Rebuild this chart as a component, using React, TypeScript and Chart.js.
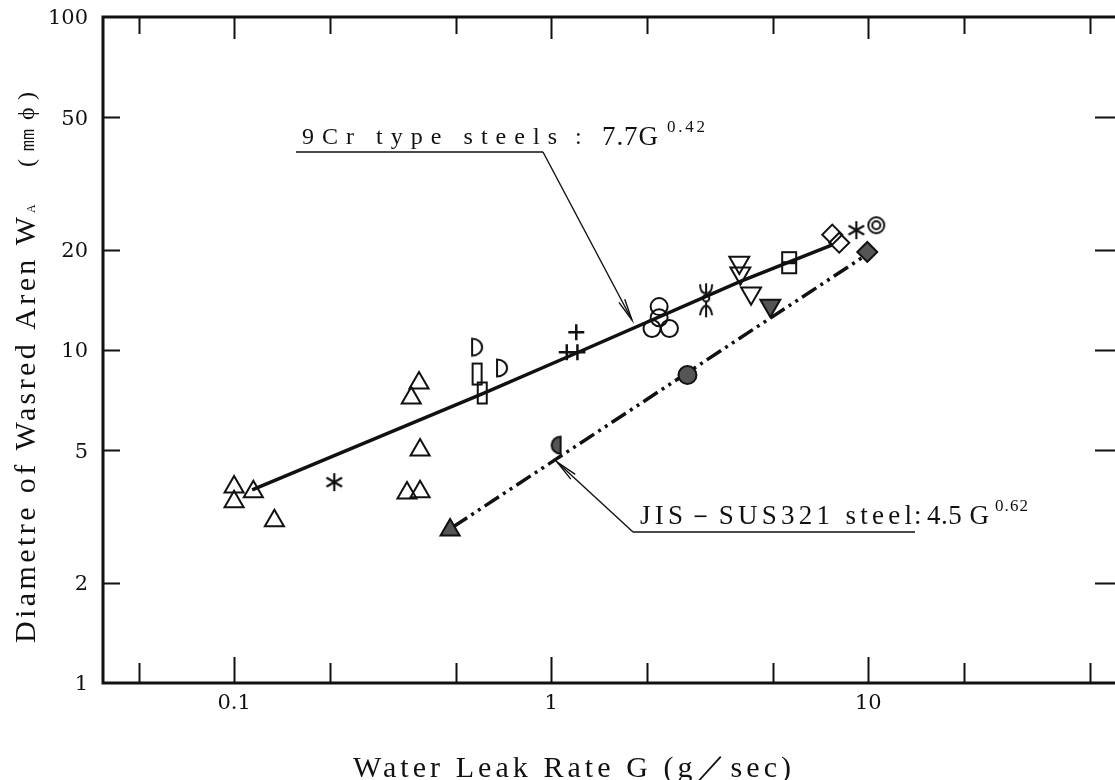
import React, { useEffect, useRef } from 'react';
import { Chart, registerables } from 'chart.js';

Chart.register(...registerables);

// ---- axis ranges and ticks ----
const X_MIN = 0.0386;
const X_MAX = 60;
const Y_MIN = 1;
const Y_MAX = 100;
const xTickLabels = [0.1, 1, 10];
const yTickLabels = [1, 2, 5, 10, 20, 50, 100];
const xTickMarks = [0.05, 0.1, 0.2, 0.5, 1, 2, 5, 10, 20, 50];
const yTickMarks = [2, 5, 10, 20, 50];

// ---- fitted lines ----
const fit9CrG = [0.114, 0.606, 1.12, 3.97, 7.7];
const fit9CrW = [3.8, 7.38, 9.51, 16.1, 20.7];
const fitSusG = [0.49, 9.86];
const fitSusW = [2.94, 19.3];

// ---- 9Cr type steels (open symbols) ----
const triG = [0.1, 0.1, 0.115, 0.134, 0.383, 0.362, 0.386, 0.351, 0.386];
const triW = [3.88, 3.5, 3.75, 3.07, 7.96, 7.18, 5.01, 3.72, 3.75];
const starG = [0.207, 9.17];
const starW = [4.01, 22.9];
const halfOpenG = [0.584, 0.7];
const halfOpenW = [10.2, 8.83];
const tallRectG = [0.584, 0.606];
const tallRectW = [8.47, 7.43];
const plusG = [1.2, 1.12, 1.21];
const plusW = [11.3, 9.84, 9.84];
const circleG = [2.19, 2.08, 2.36, 2.19];
const circleW = [13.5, 11.6, 11.6, 12.5];
const psiG = [3.08];
const psiW = [14.1];
const invTriG = [3.92, 3.95, 4.27];
const invTriW = [18.3, 17.0, 14.8];
const wideRectG = [5.63, 5.63];
const wideRectW = [19.0, 17.6];
const diamondG = [7.7, 8.1];
const diamondW = [22.2, 21.0];
const dblCircleG = [10.6];
const dblCircleW = [23.7];

// ---- JIS-SUS321 steel (shaded symbols) ----
const susTriG = [0.48];
const susTriW = [2.88];
const susHalfG = [1.04];
const susHalfW = [5.18];
const susCircleG = [2.69];
const susCircleW = [8.41];
const susInvTriG = [4.91];
const susInvTriW = [13.6];
const susDiamondG = [9.93];
const susDiamondW = [19.7];

const INK = '#111';
const SHADE = '#555';
const NONE = 'rgba(0,0,0,0)';

const pts = (g: number[], w: number[]) => g.map((v, i) => ({ x: v, y: w[i] }));

function mk(w: number, h: number, draw: (g: CanvasRenderingContext2D) => void) {
  const c = document.createElement('canvas');
  c.width = w;
  c.height = h;
  const g = c.getContext('2d') as CanvasRenderingContext2D;
  g.strokeStyle = INK;
  g.fillStyle = SHADE;
  g.lineWidth = 2;
  draw(g);
  return c;
}

function buildMarkers() {
  const halfOpen = mk(16, 22, (g) => {
    g.beginPath();
    g.moveTo(3, 2.5);
    g.ellipse(3, 11, 10, 8.5, 0, -Math.PI / 2, Math.PI / 2);
    g.closePath();
    g.stroke();
  });
  const halfFilled = mk(14, 22, (g) => {
    g.beginPath();
    g.ellipse(11, 11, 9, 8.5, 0, Math.PI / 2, (3 * Math.PI) / 2);
    g.closePath();
    g.fill();
    g.stroke();
  });
  const tallRect = mk(13, 25, (g) => {
    g.strokeRect(2, 2, 9, 21);
  });
  const wideRect = mk(18, 14, (g) => {
    g.strokeRect(2, 2, 14, 10);
  });
  const dblCircle = mk(22, 22, (g) => {
    g.beginPath();
    g.arc(11, 11, 8, 0, Math.PI * 2);
    g.stroke();
    g.beginPath();
    g.arc(11, 11, 4, 0, Math.PI * 2);
    g.stroke();
  });
  const asterisk = mk(22, 22, (g) => {
    g.lineWidth = 2.2;
    for (const a of [90, 30, 150]) {
      const r = (a * Math.PI) / 180;
      g.beginPath();
      g.moveTo(11 - 9 * Math.cos(r), 11 - 9 * Math.sin(r));
      g.lineTo(11 + 9 * Math.cos(r), 11 + 9 * Math.sin(r));
      g.stroke();
    }
  });
  const psi = mk(20, 38, (g) => {
    g.lineWidth = 2;
    g.beginPath();
    g.moveTo(10, 2);
    g.lineTo(10, 13);
    g.moveTo(4, 3);
    g.quadraticCurveTo(4, 12, 10, 12);
    g.quadraticCurveTo(16, 12, 16, 3);
    g.stroke();
    g.beginPath();
    g.arc(10, 17, 3.2, 0, Math.PI * 2);
    g.stroke();
    g.beginPath();
    g.moveTo(10, 20);
    g.lineTo(10, 36);
    g.moveTo(10, 24);
    g.quadraticCurveTo(5, 26, 4, 34);
    g.moveTo(10, 24);
    g.quadraticCurveTo(15, 26, 16, 34);
    g.stroke();
  });
  return { halfOpen, halfFilled, tallRect, wideRect, dblCircle, asterisk, psi };
}

function spaced(ctx: any, text: string, x: number, y: number, width: number) {
  if ('letterSpacing' in ctx) ctx.letterSpacing = '0px';
  const w0 = ctx.measureText(text).width;
  const n = Array.from(text).length;
  const ls = n > 1 ? (width - w0) / (n - 1) : 0;
  if ('letterSpacing' in ctx) {
    ctx.letterSpacing = ls + 'px';
    ctx.fillText(text, x, y);
    ctx.letterSpacing = '0px';
  } else {
    let cx = x;
    for (const ch of Array.from(text)) {
      ctx.fillText(ch, cx, y);
      cx += ctx.measureText(ch).width + ls;
    }
  }
}

function arrow(ctx: CanvasRenderingContext2D, x1: number, y1: number, x2: number, y2: number) {
  ctx.beginPath();
  ctx.moveTo(x1, y1);
  ctx.lineTo(x2, y2);
  ctx.stroke();
  const ang = Math.atan2(y2 - y1, x2 - x1);
  const L = 22;
  const sp = 0.15;
  ctx.beginPath();
  ctx.moveTo(x2 - L * Math.cos(ang - sp), y2 - L * Math.sin(ang - sp));
  ctx.lineTo(x2, y2);
  ctx.lineTo(x2 - L * Math.cos(ang + sp), y2 - L * Math.sin(ang + sp));
  ctx.stroke();
}

const serif = '"Liberation Serif", "DejaVu Serif", serif';

const framePlugin = {
  id: 'frameAndNotes',
  afterDraw(chart: any) {
    const { ctx, chartArea: a, scales } = chart;
    const x = scales.x;
    const y = scales.y;
    ctx.save();
    ctx.strokeStyle = INK;
    ctx.fillStyle = INK;
    ctx.lineCap = 'butt';
    // frame (right edge falls at the canvas border)
    ctx.lineWidth = 3;
    ctx.beginPath();
    ctx.moveTo(a.right, a.top);
    ctx.lineTo(a.left, a.top);
    ctx.lineTo(a.left, a.bottom);
    ctx.lineTo(a.right, a.bottom);
    ctx.stroke();
    // inward tick marks
    ctx.lineWidth = 2;
    for (const v of xTickMarks) {
      const px = Math.round(x.getPixelForValue(v)) + 0.5;
      const lg = Math.log10(v);
      const dec = Math.abs(lg - Math.round(lg)) < 1e-6;
      ctx.beginPath();
      ctx.moveTo(px, a.bottom);
      ctx.lineTo(px, a.bottom - (dec ? 26 : 20));
      ctx.moveTo(px, a.top);
      ctx.lineTo(px, a.top + (dec ? 22 : 17));
      ctx.stroke();
    }
    for (const v of yTickMarks) {
      const py = Math.round(y.getPixelForValue(v)) + 0.5;
      ctx.beginPath();
      ctx.moveTo(a.left, py);
      ctx.lineTo(a.left + 17, py);
      ctx.moveTo(a.right, py);
      ctx.lineTo(a.right - 20, py);
      ctx.stroke();
    }

    // axis titles
    ctx.textAlign = 'left';
    ctx.textBaseline = 'alphabetic';
    ctx.font = '30px ' + serif;
    spaced(ctx, 'Water Leak Rate G (g／sec)', 353, 777, 438);

    ctx.save();
    ctx.translate(35, 643);
    ctx.rotate(-Math.PI / 2);
    ctx.font = '30px ' + serif;
    spaced(ctx, 'Diametre of Wasred Aren W', 0, 0, 426);
    ctx.font = '12px ' + serif;
    ctx.fillText('A', 430, 0);
    ctx.font = '24px ' + serif;
    spaced(ctx, '(㎜ϕ)', 476, -1, 75);
    ctx.restore();

    // annotation: 9Cr type steels
    ctx.font = '24px ' + serif;
    spaced(ctx, '9Cr type steels', 302, 144, 255);
    ctx.fillText(':', 575, 144);
    ctx.font = '27px ' + serif;
    spaced(ctx, '7.7G', 602, 145, 56);
    ctx.font = '17px ' + serif;
    spaced(ctx, '0.42', 667, 132, 38);

    // annotation: JIS-SUS321 steel
    ctx.font = '27px ' + serif;
    spaced(ctx, 'JIS－SUS321 steel', 640, 524, 272);
    ctx.fillText(':', 914, 524);
    spaced(ctx, '4.5 G', 927, 524, 62);
    ctx.font = '17px ' + serif;
    spaced(ctx, '0.62', 995, 511, 33);

    // underlines and leader arrows
    ctx.lineWidth = 1.6;
    ctx.beginPath();
    ctx.moveTo(296, 152);
    ctx.lineTo(543, 152);
    ctx.moveTo(633, 532);
    ctx.lineTo(915, 532);
    ctx.stroke();
    ctx.lineWidth = 1.4;
    arrow(ctx, 543, 152, 632, 320);
    arrow(ctx, 633, 532, 557, 462);
    ctx.restore();
  },
};

const zeroPad = (s: any) => {
  s.paddingTop = 0;
  s.paddingBottom = 0;
  s.paddingLeft = 0;
  s.paddingRight = 0;
};

export default function App() {
  const ref = useRef<HTMLCanvasElement | null>(null);

  useEffect(() => {
    const canvas = ref.current;
    if (!canvas) return;
    const m = buildMarkers();

    const open = (data: any[], style: any, radius: number, extra: any = {}) => ({
      type: 'scatter',
      data,
      pointStyle: style,
      pointRadius: radius,
      pointBorderColor: INK,
      pointBackgroundColor: NONE,
      pointBorderWidth: 2,
      showLine: false,
      ...extra,
    });
    const shaded = (data: any[], style: any, radius: number, extra: any = {}) => ({
      type: 'scatter',
      data,
      pointStyle: style,
      pointRadius: radius,
      pointBorderColor: INK,
      pointBackgroundColor: SHADE,
      pointBorderWidth: 2,
      showLine: false,
      ...extra,
    });

    const datasets: any[] = [
      shaded(pts(susTriG, susTriW), 'triangle', 11),
      shaded(pts(susHalfG, susHalfW), m.halfFilled, 9),
      shaded(pts(susCircleG, susCircleW), 'circle', 9),
      shaded(pts(susInvTriG, susInvTriW), 'triangle', 11.5, { pointRotation: 180 }),
      shaded(pts(susDiamondG, susDiamondW), 'rectRot', 10),
      open(pts(triG, triW), 'triangle', 11),
      open(pts(starG, starW), m.asterisk, 10),
      open(pts(halfOpenG, halfOpenW), m.halfOpen, 9),
      open(pts(tallRectG, tallRectW), m.tallRect, 10),
      open(pts(plusG, plusW), 'cross', 8, { pointBorderWidth: 2.5 }),
      open(pts(circleG, circleW), 'circle', 8.5),
      open(pts(psiG, psiW), m.psi, 10),
      open(pts(invTriG, invTriW), 'triangle', 11.5, { pointRotation: 180 }),
      open(pts(wideRectG, wideRectW), m.wideRect, 8),
      open(pts(diamondG, diamondW), 'rectRot', 10),
      open(pts(dblCircleG, dblCircleW), m.dblCircle, 10),
      {
        type: 'line',
        data: pts(fit9CrG, fit9CrW),
        borderColor: INK,
        borderWidth: 3.5,
        pointRadius: 0,
        showLine: true,
        fill: false,
        tension: 0,
      },
      {
        type: 'line',
        data: pts(fitSusG, fitSusW),
        borderColor: INK,
        borderWidth: 3.5,
        borderDash: [17, 5, 3, 5, 3, 5],
        pointRadius: 0,
        showLine: true,
        fill: false,
        tension: 0,
      },
    ];

    const tickFont = { family: '"DejaVu Serif", serif', size: 21 };

    const chart = new Chart(canvas, {
      type: 'scatter',
      data: { datasets },
      options: {
        animation: false,
        responsive: false,
        events: [],
        layout: { autoPadding: false, padding: { top: 17, right: 0, bottom: 0, left: 0 } },
        plugins: { legend: { display: false }, tooltip: { enabled: false } },
        scales: {
          x: {
            type: 'logarithmic',
            min: X_MIN,
            max: X_MAX,
            grid: { display: false, drawTicks: false },
            border: { display: false },
            afterBuildTicks: (s: any) => {
              s.ticks = xTickLabels.map((v) => ({ value: v }));
            },
            afterFit: (s: any) => {
              s.height = 97;
              zeroPad(s);
            },
            ticks: {
              font: tickFont,
              color: INK,
              padding: 8,
              autoSkip: false,
              maxRotation: 0,
              callback: (v: any) => String(v),
            },
          },
          y: {
            type: 'logarithmic',
            min: Y_MIN,
            max: Y_MAX,
            grid: { display: false, drawTicks: false },
            border: { display: false },
            afterBuildTicks: (s: any) => {
              s.ticks = yTickLabels.map((v) => ({ value: v }));
            },
            afterFit: (s: any) => {
              s.width = 103;
              zeroPad(s);
            },
            ticks: {
              font: tickFont,
              color: INK,
              padding: 15,
              autoSkip: false,
              labelOffset: 2,
              callback: (v: any) => String(v),
            },
          },
        },
      } as any,
      plugins: [framePlugin],
    } as any);

    return () => chart.destroy();
  }, []);

  return (
    <div style={{ position: 'absolute', left: 0, top: 0, width: 1115, height: 780, background: '#fff' }}>
      <canvas ref={ref} width={1115} height={780} style={{ display: 'block', width: 1115, height: 780 }} />
    </div>
  );
}
